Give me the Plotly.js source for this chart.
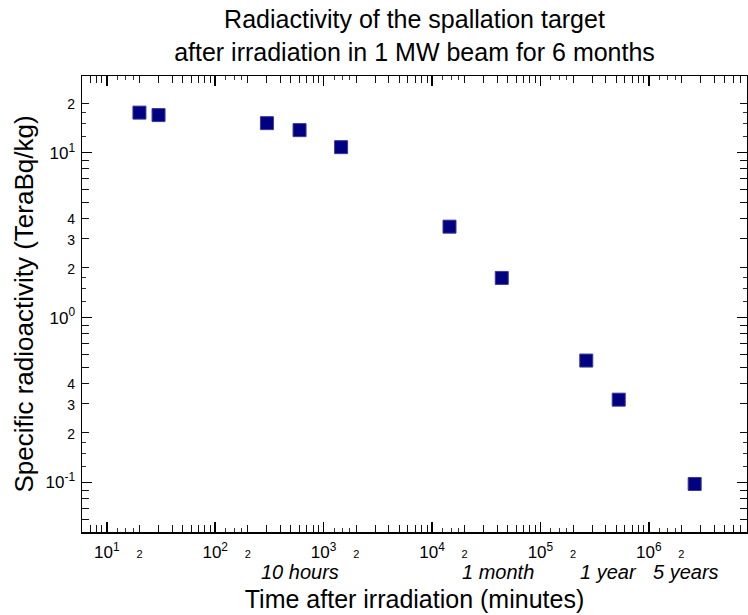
<!DOCTYPE html>
<html>
<head>
<meta charset="utf-8">
<script src="https://cdn.plot.ly/plotly-3.0.1.min.js"></script>
<style>html,body{margin:0;padding:0;background:#fff;}#chart{width:748px;height:615px;}</style>
</head>
<body>
<div id="chart"></div>
<script>
// Data
const timeMinutes = [20, 30, 300, 600, 1450, 14500, 44000, 265000, 528000, 2650000];
const activityTBqPerKg = [17.5, 16.9, 15.1, 13.7, 10.8, 3.56, 1.74, 0.549, 0.318, 0.098];

// Tick definitions
const xDecades = [0, 1, 2, 3, 4, 5, 6];
const yDecades = [-2, -1, 0, 1];
const tickMultipliers = [1, 2, 3, 4, 5, 6, 7, 8, 9];
const minorMultipliers = [1.25, 1.5, 1.75];
const xLabelMultipliers = [1, 2];
const yLabelMultipliers = [1, 2, 3, 4];

// Time reference labels under the x axis
const timeMarkerText = ['10 hours', '1 month', '1 year', '5 years'];
const timeMarkerMinutes = [600, 43200, 525600, 2628000];
const timeMarkerShift = [0, -3, -10, -8];

const FONT = 'Liberation Sans, Arial, Helvetica, sans-serif';

function buildTicks(decades, labelMults, smallSize) {
  const vals = [], text = [];
  decades.forEach(d => {
    tickMultipliers.forEach(m => {
      vals.push(m * Math.pow(10, d));
      if (m === 1) text.push('10<sup>' + d + '</sup>');
      else if (labelMults.indexOf(m) >= 0) text.push('<span style="font-size:' + smallSize + 'px">' + m + '</span>');
      else text.push('');
    });
  });
  return {vals, text};
}
function buildMinor(decades) {
  const vals = [];
  decades.forEach(d => minorMultipliers.forEach(m => vals.push(m * Math.pow(10, d))));
  return vals;
}
function decadeVals(decades) { return decades.map(d => Math.pow(10, d)); }

const xt = buildTicks(xDecades, xLabelMultipliers, 11);
const yt = buildTicks(yDecades, yLabelMultipliers, 14);

const xRange = [0.771, 6.906];
const yRange = [-1.30, 1.465];

const trace = {
  x: timeMinutes,
  y: activityTBqPerKg,
  type: 'scatter',
  mode: 'markers',
  marker: {symbol: 'square', size: 13, color: '#000080', line: {color: '#3a3a9a', width: 1}},
  showlegend: false,
  hoverinfo: 'x+y'
};
const ghost = {x: [], y: [], xaxis: 'x2', yaxis: 'y2', type: 'scatter', mode: 'markers', showlegend: false};

const baseAxis = {
  type: 'log', showgrid: false, zeroline: false,
  showline: true, linecolor: '#000', linewidth: 1.5, mirror: 'allticks',
  ticks: 'inside', tickcolor: '#111', tickwidth: 1,
  tickfont: {family: FONT, size: 17, color: '#000'}
};

const layout = {
  width: 748, height: 615,
  margin: {l: 82, r: 1, t: 76, b: 83},
  paper_bgcolor: '#fff', plot_bgcolor: '#fff',
  font: {family: FONT, color: '#000'},
  title: {
    text: 'Radiactivity of the spallation target<br>after irradiation in 1 MW beam for 6 months',
    font: {family: FONT, size: 25, color: '#000'},
    x: 0.5, xanchor: 'center', xref: 'paper',
    y: 0.954, yanchor: 'middle', yref: 'container'
  },
  xaxis: Object.assign({}, baseAxis, {
    range: xRange,
    tickmode: 'array', tickvals: xt.vals, ticktext: xt.text, ticklen: 7,
    minor: {tickmode: 'array', tickvals: buildMinor(xDecades), ticks: 'inside', ticklen: 4, tickcolor: '#333', tickwidth: 1},
    ticklabelstandoff: 4,
    title: {text: 'Time after irradiation (minutes)', font: {family: FONT, size: 25, color: '#000'}, standoff: 29}
  }),
  yaxis: Object.assign({}, baseAxis, {
    range: yRange,
    tickmode: 'array', tickvals: yt.vals, ticktext: yt.text, ticklen: 7,
    minor: {tickmode: 'array', tickvals: buildMinor(yDecades), ticks: 'inside', ticklen: 4, tickcolor: '#333', tickwidth: 1},
    ticklabelstandoff: 2,
    title: {text: 'Specific radioactivity (TeraBq/kg)', font: {family: FONT, size: 26, color: '#000'}, standoff: 4}
  }),
  xaxis2: {
    type: 'log', range: xRange, overlaying: 'x', anchor: 'y2', side: 'bottom',
    showgrid: false, zeroline: false, showline: false, showticklabels: false,
    tickmode: 'array', tickvals: decadeVals(xDecades), ticks: 'inside', ticklen: 10, tickwidth: 1.5, tickcolor: '#000', mirror: 'allticks'
  },
  yaxis2: {
    type: 'log', range: yRange, overlaying: 'y', anchor: 'x2', side: 'left',
    showgrid: false, zeroline: false, showline: false, showticklabels: false,
    tickmode: 'array', tickvals: decadeVals(yDecades), ticks: 'inside', ticklen: 10, tickwidth: 1.5, tickcolor: '#000', mirror: 'allticks'
  },
  annotations: timeMarkerText.map((t, i) => ({
    text: '<i>' + t + '</i>',
    x: Math.log10(timeMarkerMinutes[i]), xref: 'x', xshift: timeMarkerShift[i],
    y: -0.087, yref: 'paper', yanchor: 'middle', xanchor: 'center',
    showarrow: false,
    font: {family: FONT, size: 20, color: '#000'}
  }))
};

Plotly.newPlot('chart', [trace, ghost], layout, {displayModeBar: false, staticPlot: true});
</script>
</body>
</html>
